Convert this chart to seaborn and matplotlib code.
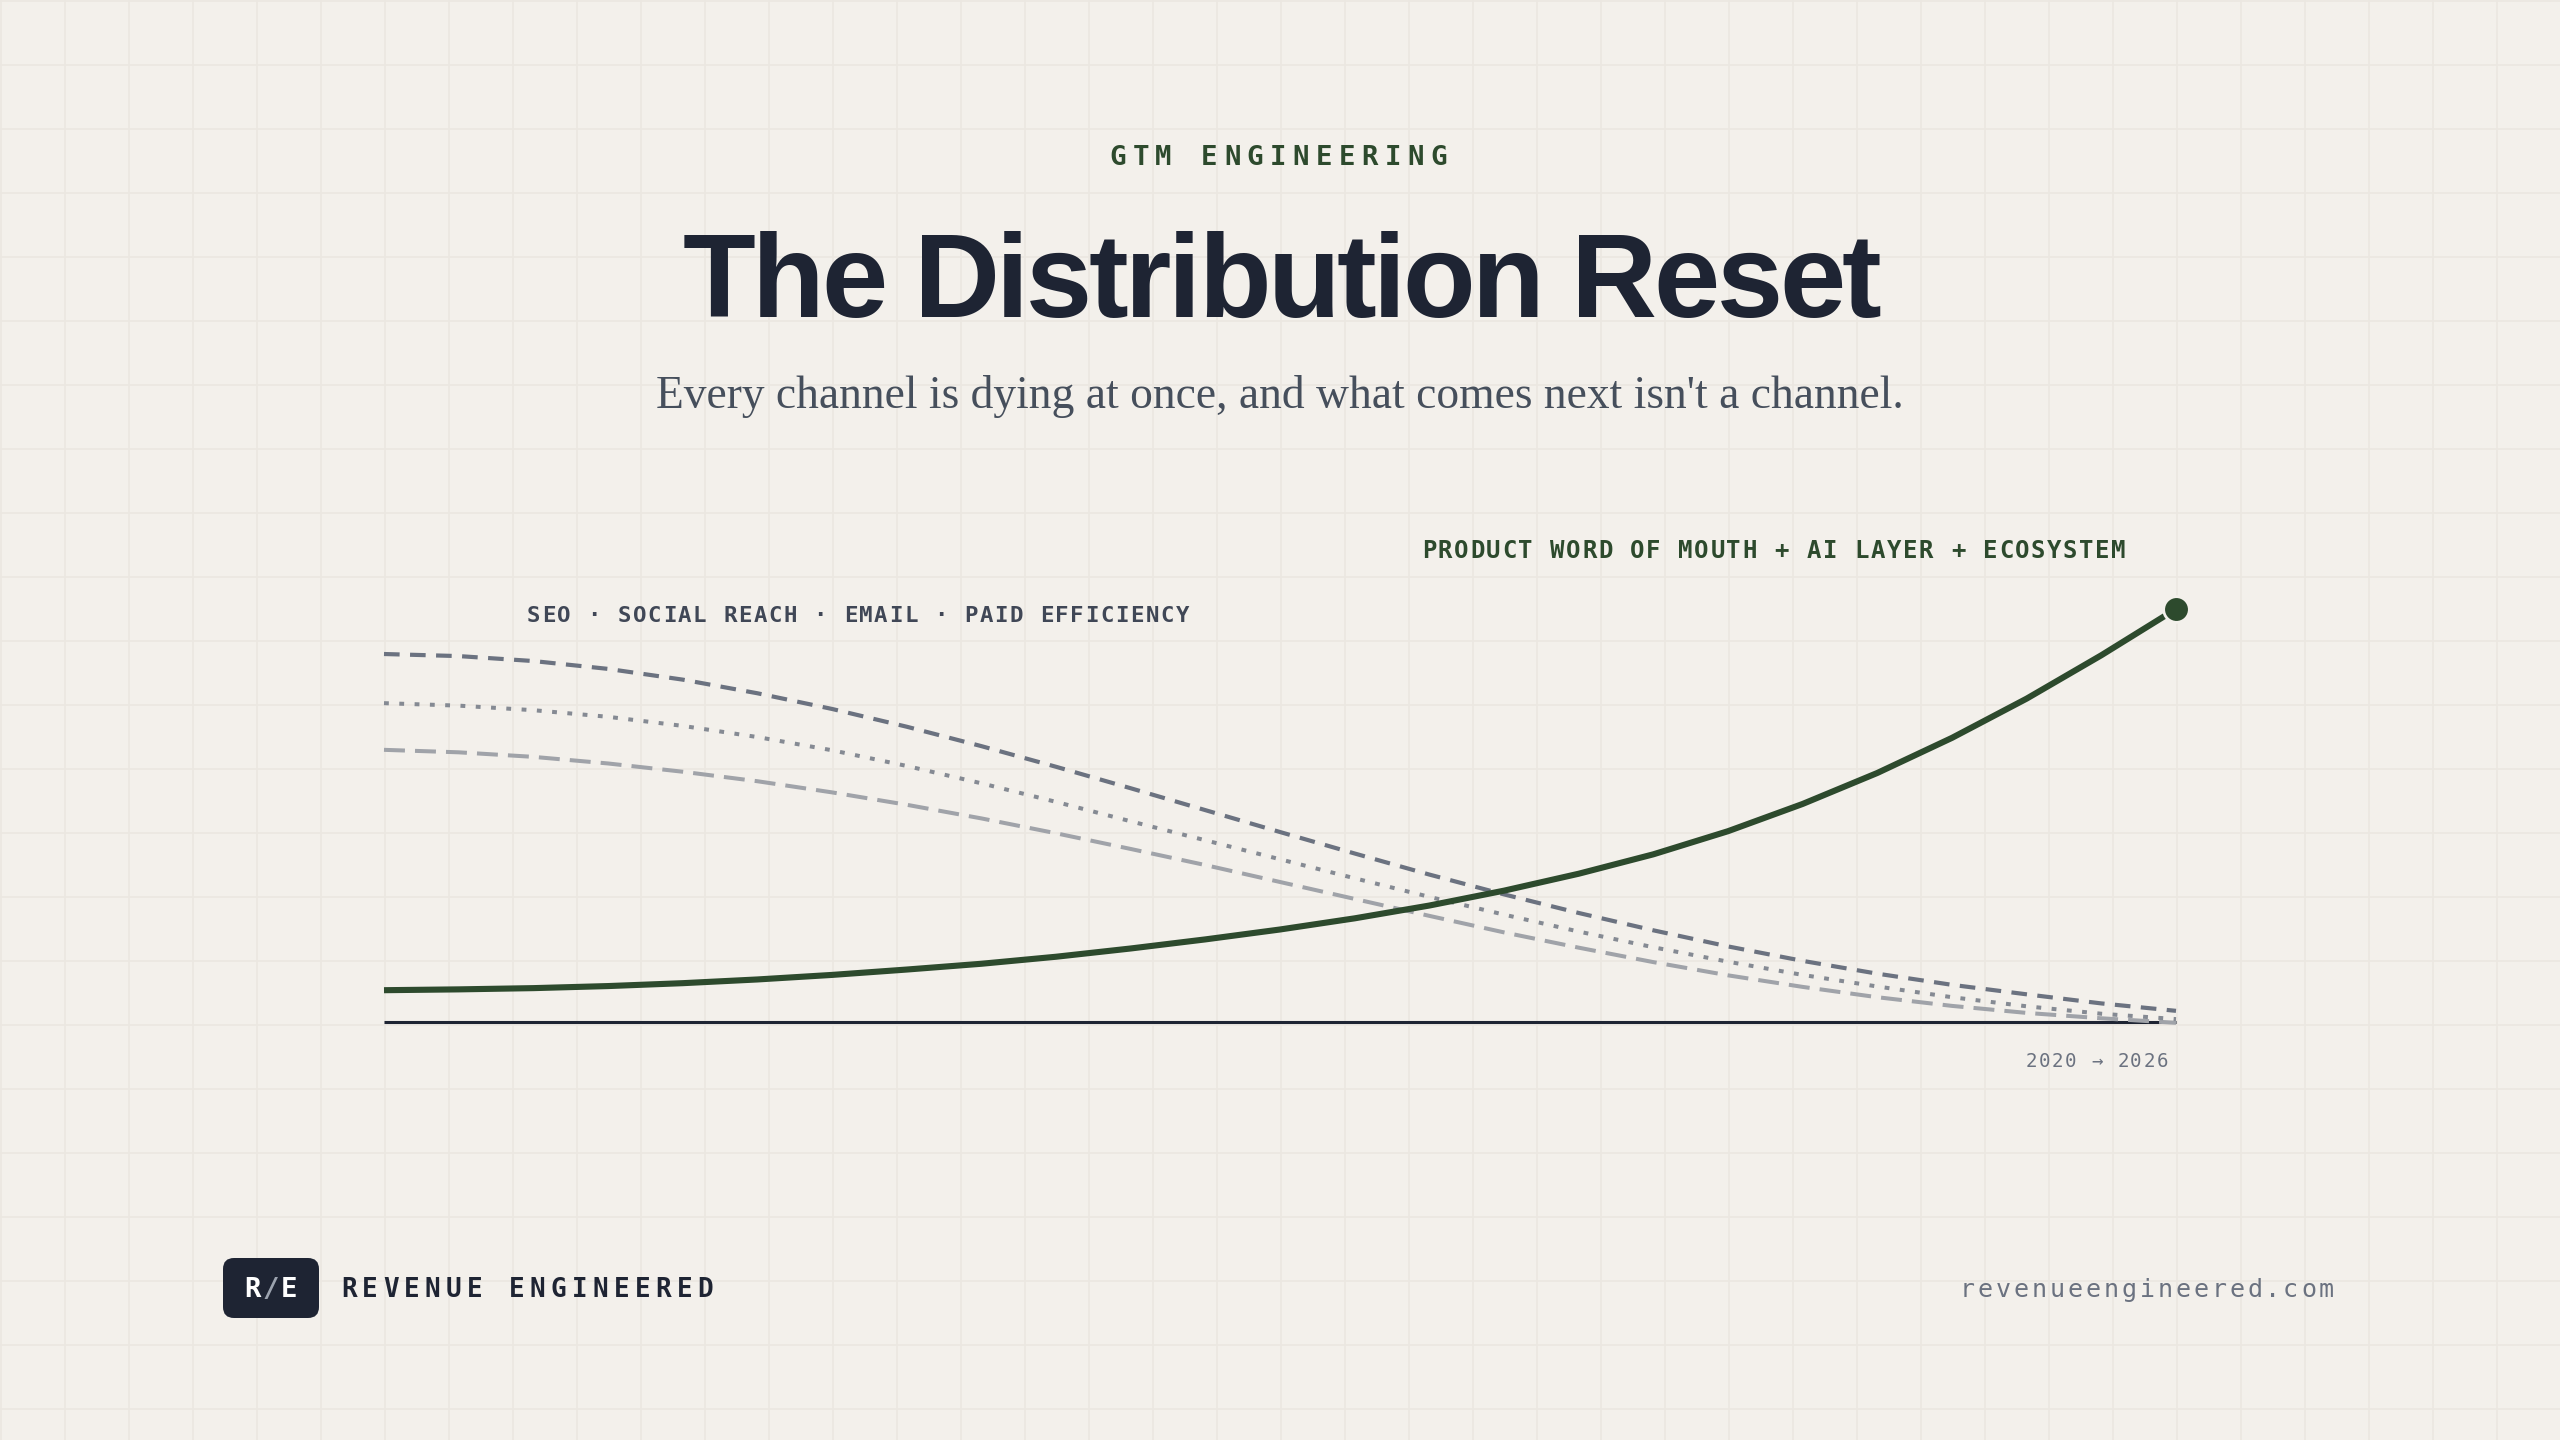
import numpy as np
import pandas as pd
import matplotlib
matplotlib.use("Agg")
import matplotlib.pyplot as plt
import seaborn as sns
from matplotlib import font_manager as fm
from matplotlib.ft2font import FT2Font
from matplotlib.patches import FancyBboxPatch

# ---------------- data ----------------
years = [2020.0, 2020.25, 2020.5, 2020.75, 2021.0, 2021.25, 2021.5, 2021.75,
         2022.0, 2022.25, 2022.5, 2022.75, 2023.0, 2023.25, 2023.5, 2023.75,
         2024.0, 2024.25, 2024.5, 2024.75, 2025.0, 2025.25, 2025.5, 2025.75, 2026.0]
decline_dark = [89.1, 88.6, 87.4, 85.5, 82.9, 79.6, 75.8, 71.5, 66.8, 61.8, 56.6, 51.3,
                46.0, 40.8, 35.7, 30.9, 26.4, 22.2, 18.3, 14.8, 11.7, 9.0, 6.7, 4.5, 2.7]
decline_dotted = [77.2, 76.6, 75.5, 73.9, 71.7, 69.0, 65.8, 62.0, 57.8, 53.3, 48.6, 44.0,
                  39.4, 34.8, 30.3, 26.0, 21.9, 18.1, 14.6, 11.4, 8.6, 6.0, 3.8, 2.0, 0.7]
decline_light = [65.9, 65.3, 64.2, 62.6, 60.6, 58.3, 55.6, 52.6, 49.3, 45.7, 41.9, 38.0,
                 33.9, 29.8, 25.7, 21.7, 18.0, 14.5, 11.3, 8.5, 6.0, 3.9, 2.2, 0.9, -0.2]
new_layer = [7.7, 7.9, 8.2, 8.7, 9.4, 10.3, 11.4, 12.7, 14.1, 15.8, 17.8, 20.0, 22.4,
             25.1, 28.2, 31.8, 35.9, 40.6, 46.2, 52.8, 60.3, 68.8, 78.3, 88.8, 100.0]

kicker = "GTM ENGINEERING"
title = "The Distribution Reset"
subtitle = "Every channel is dying at once, and what comes next isn't a channel."
old_label = "SEO · SOCIAL REACH · EMAIL · PAID EFFICIENCY"
new_label = "PRODUCT WORD OF MOUTH + AI LAYER + ECOSYSTEM"
range_label = "2020 → 2026"
brand = "REVENUE ENGINEERED"
logo = "R/E"
site = "revenueengineered.com"

# ---------------- style ----------------
BG = '#f3f0eb'
GRID = '#ebe7e1'
NAVY = '#1e2433'
GREEN = '#2d4a2d'
SLATE = '#404756'
MUTED = '#6b7280'
DPI = 100
W, H = 2560, 1440

sns.set_theme(style='white')
plt.rcParams['font.family'] = ['DejaVu Sans']

fig = plt.figure(figsize=(W / DPI, H / DPI), dpi=DPI, facecolor=BG)
bg = fig.add_axes([0, 0, 1, 1], zorder=0)
bg.set_xlim(0, W)
bg.set_ylim(H, 0)
bg.axis('off')

for gx in range(1, W, 64):
    bg.axvline(gx, color=GRID, lw=1.2, zorder=0)
for gy in range(1, H, 64):
    bg.axhline(gy, color=GRID, lw=1.2, zorder=0)


def advances(s, fp):
    f = FT2Font(fm.findfont(fp))
    f.set_size(fp.get_size_in_points(), 72)
    out = []
    for c in s:
        g = f.load_char(ord(c))
        out.append(g.linearHoriAdvance / 65536.0 * DPI / 72.0)
    return out


def tracked(x, y, s, family, weight, size_px, track_px, color, ha='left', colors=None):
    size_pt = size_px * 72.0 / DPI
    fp = fm.FontProperties(family=family, weight=weight, size=size_pt)
    adv = advances(s, fp)
    total = sum(adv) + track_px * (len(s) - 1)
    if ha == 'left':
        pen = x
    elif ha == 'center':
        pen = x - total / 2
    else:
        pen = x - total
    for i, c in enumerate(s):
        if c != ' ':
            col = colors[i] if colors else color
            bg.text(pen + adv[i] / 2, y, c, fontproperties=fp, color=col,
                    ha='center', va='baseline', zorder=5)
        pen += adv[i] + track_px


MONO = 'DejaVu Sans Mono'

# header
tracked(1278, 165, kicker, MONO, 'bold', 27.4, 6.4, GREEN, ha='center')
tracked(1282, 317, title, 'Liberation Sans', 'bold', 119, -3.3, NAVY, ha='center')

sub = bg.text(1280, 408, subtitle, family='Liberation Serif', fontsize=30.5,
              color='#464f5c', ha='center', va='baseline')
fig.canvas.draw()
wpx = sub.get_window_extent(fig.canvas.get_renderer()).width
sub.set_fontsize(30.5 * 1248.0 / wpx)

# annotations
tracked(527, 622, old_label, MONO, 'bold', 22.4, 1.6, SLATE, ha='left')
tracked(1422, 558, new_label, MONO, 'bold', 24, 1.6, GREEN, ha='left')
tracked(2168, 1067, range_label, MONO, 'normal', 19.2, 1.5, MUTED, ha='right')

# footer
box = FancyBboxPatch((223, 1258), 96, 60, boxstyle='round,pad=0,rounding_size=11',
                     fc=NAVY, ec='none', zorder=3)
bg.add_patch(box)
tracked(271, 1297, logo, MONO, 'bold', 27.4, 1.5, 'white', ha='center',
        colors=['#ffffff', '#9ca3af', '#ffffff'])
tracked(341, 1297, brand, MONO, 'bold', 26, 5.3, NAVY, ha='left')
tracked(2334, 1297, site, MONO, 'normal', 25, 2.9, MUTED, ha='right')

# ---------------- chart ----------------
ax = fig.add_axes([384 / W, (H - 1022) / H, 1792 / W, 413 / H], zorder=2)
ax.set_facecolor('none')
ax.set_xlim(2020, 2026)
ax.set_ylim(0, 100)
ax.axis('off')

df = pd.DataFrame({
    'year': years * 4,
    'value': decline_dark + decline_dotted + decline_light + new_layer,
    'series': (['dark'] * len(years) + ['dotted'] * len(years)
               + ['light'] * len(years) + ['new'] * len(years)),
})

ax.axhline(0, color=NAVY, lw=2.2, zorder=1, clip_on=False)

styles = {
    'light': dict(color='#a0a3a9', lw=2.9, ls=(0, (5.2, 2.5))),
    'dotted': dict(color='#858a93', lw=2.9, ls=(0, (1.2, 2.6))),
    'dark': dict(color='#6b7280', lw=3.0, ls=(0, (3.75, 2.5))),
    'new': dict(color=GREEN, lw=4.4, ls='-'),
}
for i, name in enumerate(['light', 'dotted', 'dark', 'new']):
    st = styles[name]
    sns.lineplot(data=df[df['series'] == name], x='year', y='value', ax=ax,
                 color=st['color'], linewidth=st['lw'], linestyle=st['ls'],
                 estimator=None, legend=False, zorder=2 + i, clip_on=False)
for line in ax.lines:
    line.set_solid_capstyle('butt')
    line.set_dash_capstyle('butt')
    line.set_solid_joinstyle('round')

ax.plot(years[-1], new_layer[-1], 'o', ms=18.5, mfc=GREEN, mec=BG, mew=2,
        zorder=10, clip_on=False)
ax.set_xlabel('')
ax.set_ylabel('')

fig.savefig('out.png', dpi=DPI, facecolor=BG)
